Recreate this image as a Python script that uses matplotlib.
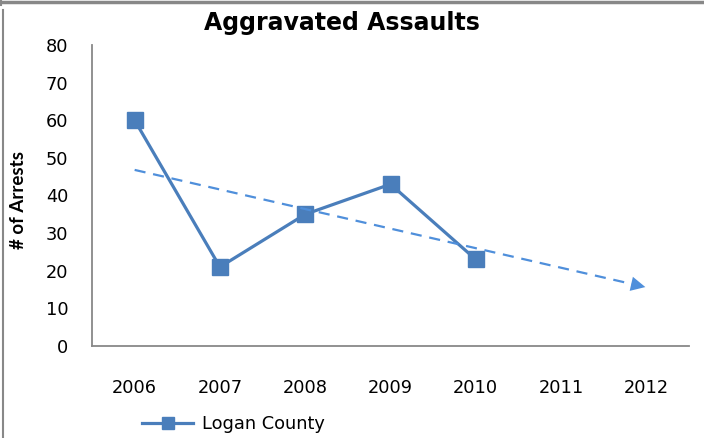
import numpy as np
import matplotlib
matplotlib.use('Agg')
import matplotlib.pyplot as plt
from matplotlib.lines import Line2D

plt.rcParams['font.family'] = ['DejaVu Sans']

years = ['2006', '2007', '2008', '2009', '2010', '2011', '2012']
arrests = [60, 21, 35, 43, 23]
series_name = 'Logan County'

line_col = '#4A7EBB'
trend_col = '#4F8FDB'

fig = plt.figure(figsize=(7.04, 4.38), dpi=100)
ax = fig.add_axes([92/704, 1 - 346/438, (689 - 92)/704, (346 - 45)/438])

x = np.arange(len(arrests))
ax.plot(x, arrests, '-s', color=line_col, lw=2.3, ms=12, mfc=line_col, mec=line_col,
        label=series_name)

# linear trend line, forecast out to the last category
fit = np.polyfit(x, arrests, 1)
xt = np.arange(len(years))
yt = np.polyval(fit, xt)
x_end = xt[-1] - 0.15
ax.plot(np.append(xt[:-1], x_end), np.append(yt[:-1], np.polyval(fit, x_end)),
        '--', color=trend_col, lw=1.6, dashes=(5, 3.5))
ax.annotate('', xy=(xt[-1] + 0.02, np.polyval(fit, xt[-1] + 0.02)),
            xytext=(xt[-1] - 0.25, np.polyval(fit, xt[-1] - 0.25)),
            arrowprops=dict(arrowstyle='-|>', color=trend_col, lw=0, mutation_scale=26))

ax.set_xlim(-0.5, len(years) - 0.5)
ax.set_ylim(0, 80)
ax.set_xticks(xt)
ax.set_xticklabels(years)
ax.set_yticks(range(0, 81, 10))
ax.tick_params(length=0, labelsize=12.8)
ax.tick_params(axis='x', pad=24)
ax.tick_params(axis='y', pad=17)
for s in ['top', 'right']:
    ax.spines[s].set_visible(False)
for s in ['left', 'bottom']:
    ax.spines[s].set_color('#888888')
    ax.spines[s].set_linewidth(1.3)

fig.text(342/704, 1 - 23/438, 'Aggravated Assaults', ha='center', va='center',
         fontsize=17, fontweight='bold')
fig.text(19/704, 1 - 200/438, '# of Arrests', ha='center', va='center', rotation=90,
         fontsize=13.5, fontweight='bold', family=['Lato', 'DejaVu Sans'])

handle = Line2D([], [], color=line_col, lw=2.3, marker='s', ms=8.6)
fig.legend([handle], [series_name], loc='center left', bbox_to_anchor=(142/704, 1 - 424/438),
           frameon=False, fontsize=12.8, handlelength=2.87, handletextpad=0.5,
           borderaxespad=0, borderpad=0)

# frame edges from the worksheet
fig.add_artist(Line2D([0, 1], [1 - 2/438, 1 - 2/438], color='#888888', lw=2.5, transform=fig.transFigure))
fig.add_artist(Line2D([3/704, 3/704], [0, 1 - 10/438], color='#888888', lw=1.5, transform=fig.transFigure))
fig.add_artist(Line2D([0.5/704, 0.5/704], [1 - 5/438, 1], color='#888888', lw=1.5, transform=fig.transFigure))

fig.savefig('out.png', dpi=100)
